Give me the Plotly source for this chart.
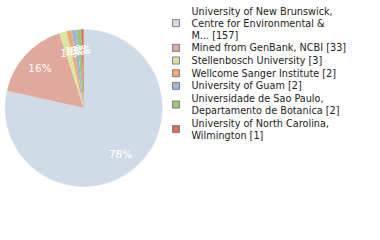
import plotly.graph_objects as go

# ---- data ----
institutions = [
    "University of New Brunswick,\nCentre for Environmental &\nM...",
    "Mined from GenBank, NCBI",
    "Stellenbosch University",
    "Wellcome Sanger Institute",
    "University of Guam",
    "Universidade de Sao Paulo,\nDepartamento de Botanica",
    "University of North Carolina,\nWilmington",
]
counts = [157, 33, 3, 2, 2, 2, 1]
colors = ["#cfdbe7", "#e1a99d", "#dfe3a0", "#f0a96f", "#9bb8dc", "#9dc67b", "#dc6d55"]

total = sum(counts)
pct_text = [f"{int(100 * c / total)}%" for c in counts]
flat_labels = [s.replace("\n", " ") for s in institutions]

# ---- pie geometry (pixels) ----
W, H = 380, 240
cx, cy, R = 83.7, 108.0, 78.7
R_small = 59.5


def dom(r):
    return dict(x=[(cx - r) / W, (cx + r) / W], y=[1 - (cy + r) / H, 1 - (cy - r) / H])


big = [c / total >= 0.05 for c in counts]
clear = ["rgba(0,0,0,0)"] * len(counts)
label_font = dict(family="DejaVu Sans", size=10.5, color="white")
common = dict(values=counts, labels=flat_labels, sort=False, direction="clockwise",
              rotation=0, showlegend=False, hoverinfo="skip")

fig = go.Figure()

# visible pie
fig.add_trace(go.Pie(
    **common, textinfo="none",
    marker=dict(colors=colors, line=dict(width=0)),
    domain=dom(R),
))
# labels of large slices
fig.add_trace(go.Pie(
    **common, hole=0.5,
    text=[t if b else "" for t, b in zip(pct_text, big)],
    texttemplate="%{text}", textposition="inside", insidetextorientation="horizontal",
    textfont=label_font,
    marker=dict(colors=clear, line=dict(width=0)),
    domain=dom(R),
))
# labels of small slices
fig.add_trace(go.Pie(
    **common,
    text=["" if b else t for t, b in zip(pct_text, big)],
    texttemplate="%{text}", textposition="inside", insidetextorientation="horizontal",
    textfont=label_font,
    marker=dict(colors=clear, line=dict(width=0)),
    domain=dom(R_small),
))

# ---- custom legend (pixel-space overlay axis) ----
line_pitch = 11.9
item_gap = 0.8
y_cursor = 12.3
sq_x, txt_x = 176, 191.5
sq_y, sq_c = [], []
line_x, line_y, line_t = [], [], []
for name, c, col in zip(institutions, counts, colors):
    lines = (name + f" [{c}]").split("\n")
    n = len(lines)
    for i, ln in enumerate(lines):
        line_x.append(txt_x)
        line_y.append(y_cursor + i * line_pitch)
        line_t.append(ln)
    sq_y.append(y_cursor + (n - 1) * line_pitch / 2 - 1.0)
    sq_c.append(col)
    y_cursor += n * line_pitch + item_gap

fig.add_trace(go.Scatter(
    x=[sq_x] * len(sq_y), y=sq_y, mode="markers",
    marker=dict(symbol="square", size=7, color=sq_c, line=dict(width=1, color="#808080")),
    showlegend=False, hoverinfo="skip",
))
fig.add_trace(go.Scatter(
    x=line_x, y=line_y, mode="text", text=line_t, textposition="middle right",
    textfont=dict(family="DejaVu Sans", size=9.7, color="#222222"),
    showlegend=False, hoverinfo="skip",
))

fig.update_layout(
    width=W, height=H,
    margin=dict(l=0, r=0, t=0, b=0),
    paper_bgcolor="white", plot_bgcolor="rgba(0,0,0,0)",
    uniformtext=dict(mode="show", minsize=10.5),
    xaxis=dict(range=[0, W], visible=False, domain=[0, 1], fixedrange=True),
    yaxis=dict(range=[H, 0], visible=False, domain=[0, 1], fixedrange=True),
    showlegend=False,
)

fig.write_html("out.html")
